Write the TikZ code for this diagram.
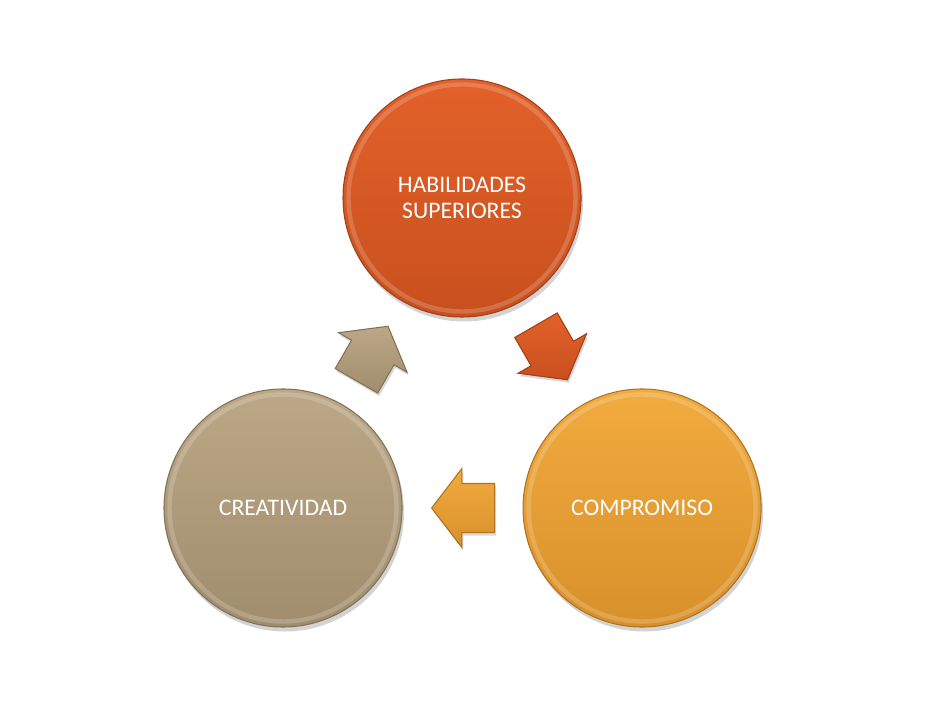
\documentclass[tikz,border=0pt]{standalone}
\usepackage{fontspec}
\setmainfont{Carlito}
\usetikzlibrary{positioning, calc, shapes.arrows, shadows}

\definecolor{habtop}{HTML}{E3612A}
\definecolor{habbot}{HTML}{C8501E}
\definecolor{comptop}{HTML}{F2AB3E}
\definecolor{compbot}{HTML}{D8902B}
\definecolor{creatop}{HTML}{BCA887}
\definecolor{creabot}{HTML}{A08D6D}

\begin{document}
\begin{tikzpicture}[
    circ/.style={
        circle,
        minimum size=4.76cm,
        inner sep=0pt,
        align=center,
        text=white,
        font=\fontsize{13.5}{15}\selectfont,
        drop shadow={opacity=0.35, shadow xshift=0.04cm, shadow yshift=-0.09cm},
        path picture={\draw[white, opacity=0.18, line width=2.5pt]
            (path picture bounding box.center) circle (2.27cm);}
    },
    hab/.style={top color=habtop, bottom color=habbot, draw=habbot!80!black, line width=0.6pt},
    comp/.style={top color=comptop, bottom color=compbot, draw=compbot!80!black, line width=0.6pt},
    crea/.style={top color=creatop, bottom color=creabot, draw=creabot!80!black, line width=0.6pt},
    flecha/.style={
        single arrow,
        inner xsep=0pt,
        inner ysep=0.48cm,
        minimum height=1.26cm,
        single arrow head extend=0.3cm,
        single arrow tip angle=105,
        drop shadow={opacity=0.3, shadow xshift=0.03cm, shadow yshift=-0.06cm}
    }
]
\useasboundingbox (0,0) rectangle (18.86,14);

% === Circles ===
\node[circ, crea] (creatividad) at (5.66,3.84) {CREATIVIDAD};
\node[circ, comp, right=2.4cm of creatividad] (compromiso) {COMPROMISO};
\node[circ, hab] (habilidades) at (9.24,10.04) {HABILIDADES\\SUPERIORES};

% === Arrows between circles ===
\node[flecha, hab, rotate=-60, xshift=-0.2cm] (a1) at ($(habilidades)!0.5!(compromiso)$) {};
\node[flecha, comp, rotate=180, xshift=-0.2cm] (a2) at ($(compromiso)!0.5!(creatividad)$) {};
\node[flecha, crea, rotate=60, xshift=-0.2cm] (a3) at ($(creatividad)!0.5!(habilidades)$) {};

\end{tikzpicture}
\end{document}
